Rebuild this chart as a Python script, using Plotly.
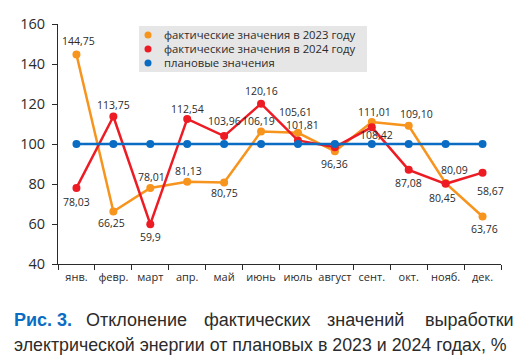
import plotly.graph_objects as go

months = ["янв.", "февр.", "март", "апр.", "май", "июнь", "июль", "август", "сент.", "окт.", "нояб.", "дек."]
fact_2023 = [144.75, 66.25, 78.01, 81.13, 80.75, 106.19, 105.61, 96.36, 111.01, 109.10, 80.45, 63.76]
fact_2024 = [78.03, 113.75, 59.9, 112.54, 103.96, 120.16, 101.81, 98.4, 108.42, 87.08, 80.09, 85.67]
plan = [100] * 12
labels_2023 = ["144,75", "66,25", "78,01", "81,13", "80,75", "106,19", "105,61", "96,36", "111,01", "109,10", "80,45", "63,76"]
labels_2024 = ["78,03", "113,75", "59,9", "112,54", "103,96", "120,16", "101,81", "", "108,42", "87,08", "80,09", "58,67"]
series_names = ["фактические значения в 2023 году", "фактические значения в 2024 году", "плановые значения"]
y_ticks = [40, 60, 80, 100, 120, 140, 160]

ORANGE = "#f7941d"
RED = "#ed1c24"
BLUE = "#0a6cc2"
TXT = "#2b2b2b"
FONT = "Open Sans"

# label offsets (pixels) relative to point: (dx, dy up)
off_2023 = [(2, 14), (-2, -11), (1, 11), (1, 11), (0, -10), (-3, 11), (-2, 21), (0, -13), (3, 10), (8, 12), (-3, -15), (2, -13)]
off_2024 = [(0, -14), (0, 12), (0, -13), (0, 10), (0, 15), (0, 13), (5, 15), (0, 0), (5, -8), (0, -13), (9, 14), (8, -18)]

# the page body has an 8px margin, so the figure is shifted by PAGE_OFF
PAGE_OFF = 8
FIG_W, FIG_H = 530 - PAGE_OFF, 362 - PAGE_OFF
L, W, T, H = 58, 443, 24, 240          # plot area in page pixels
def px(xp):
    return (xp - L) / W
def py(yp):
    return (T + H - yp) / H

fig = go.Figure()
colors = [ORANGE, RED, BLUE]
for name, vals, col in zip(series_names, [fact_2023, fact_2024, plan], colors):
    fig.add_trace(go.Scatter(x=months, y=vals, mode="lines+markers", name=name,
                             line=dict(color=col, width=2.5), marker=dict(color=col, size=8),
                             showlegend=False))

annotations = []
for vals, labs, offs in [(fact_2023, labels_2023, off_2023), (fact_2024, labels_2024, off_2024)]:
    for m, v, t, (dx, dy) in zip(months, vals, labs, offs):
        if not t:
            continue
        annotations.append(dict(x=m, y=v, xref="x", yref="y", text=t, showarrow=False,
                                xshift=dx, yshift=dy, font=dict(family=FONT, size=10.5, color=TXT),
                                xanchor="center", yanchor="middle"))

# legend box (drawn as shapes + text)
shapes = [dict(type="rect", xref="paper", yref="paper", x0=px(139), x1=px(367), y0=py(72), y1=py(26),
               fillcolor="#e6e6e6", line=dict(width=0), layer="below")]
for i, (name, col) in enumerate(zip(series_names, colors)):
    yc = 35 + i * 14
    shapes.append(dict(type="circle", xref="paper", yref="paper", xsizemode="pixel", ysizemode="pixel",
                       xanchor=px(148), yanchor=py(yc), x0=-3.5, x1=3.5, y0=-3.5, y1=3.5,
                       fillcolor=col, line=dict(width=0)))
    annotations.append(dict(x=px(162), y=py(yc), xref="paper", yref="paper", text=name, showarrow=False,
                            xanchor="left", yanchor="middle", font=dict(family=FONT, size=11.3, color=TXT)))

words1 = [("<b>Рис. 3.</b>", 12, BLUE), ("Отклонение", 84, TXT), ("фактических", 202, TXT),
          ("значений", 325, TXT), ("выработки", 423, TXT)]
for w, x0, c in words1:
    annotations.append(dict(x=px(x0), y=py(320), xref="paper", yref="paper", text=w, showarrow=False,
                            xanchor="left", yanchor="middle", font=dict(family="Liberation Sans", size=18, color=c)))
annotations.append(dict(x=px(12), y=py(345), xref="paper", yref="paper",
                        text="электрической энергии от плановых в 2023 и 2024 годах, %",
                        showarrow=False, xanchor="left", yanchor="middle",
                        font=dict(family="Liberation Sans", size=17.8, color=TXT)))

fig.update_layout(
    width=FIG_W, height=FIG_H,
    margin=dict(l=L - PAGE_OFF, r=FIG_W - (L - PAGE_OFF) - W, t=T - PAGE_OFF,
                b=FIG_H - (T - PAGE_OFF) - H, autoexpand=False),
    paper_bgcolor="white", plot_bgcolor="white",
    font=dict(family=FONT, color=TXT),
    showlegend=False,
    annotations=annotations,
    shapes=shapes,
)
fig.update_xaxes(range=[-0.5, 11.5], showline=True, linecolor=TXT, linewidth=1.2, ticks="outside",
                 tickson="boundaries", ticklen=5, tickcolor=TXT, showgrid=False, zeroline=False,
                 tickangle=0, automargin=False, ticklabelstandoff=3,
                 tickfont=dict(family=FONT, size=11, color=TXT))
fig.update_yaxes(range=[40, 160], tickvals=y_ticks, showline=True, linecolor=TXT, linewidth=1.2,
                 ticks="outside", ticklen=5, tickcolor=TXT, showgrid=False, zeroline=False,
                 automargin=False, ticklabelstandoff=4,
                 tickfont=dict(family=FONT, size=14.5, color=TXT))

fig.write_html("out.html")
